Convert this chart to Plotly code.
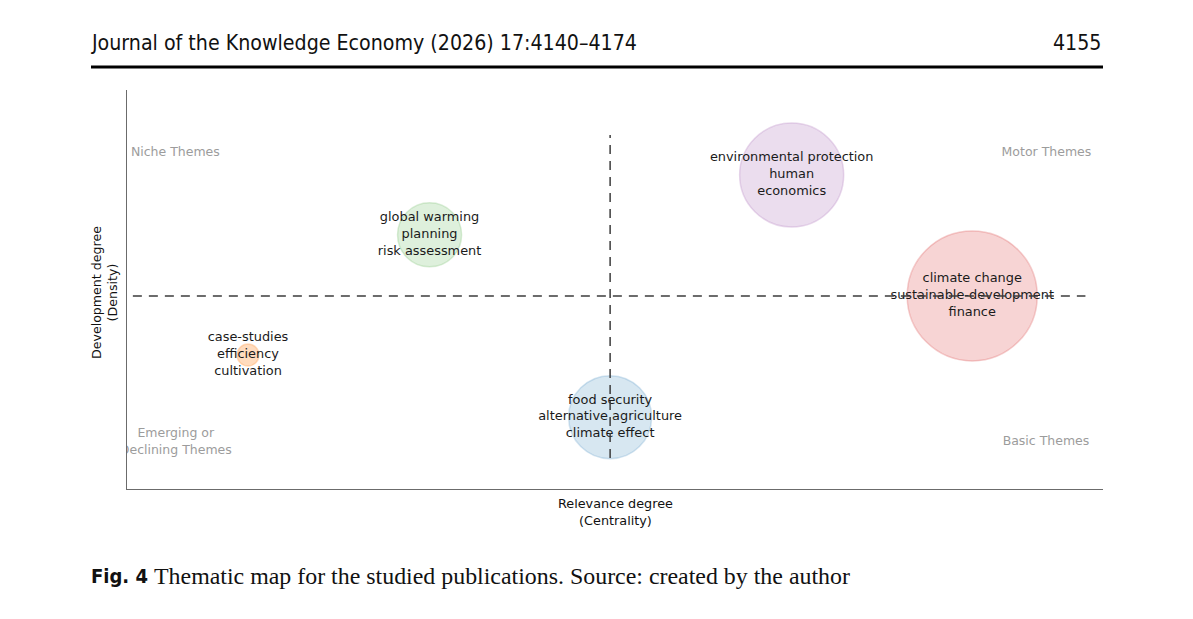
import numpy as np
import plotly.graph_objects as go

# ---- data ----
cluster_labels = [
    "global warming<br>planning<br>risk assessment",
    "environmental protection<br>human<br>economics",
    "climate change<br>sustainable-development<br>finance",
    "food security<br>alternative agriculture<br>climate effect",
    "case-studies<br>efficiency<br>cultivation",
]
centrality = [3.10, 6.81, 8.66, 4.95, 1.24]
density = [6.37, 7.87, 4.84, 1.80, 3.36]
cluster_size = [64, 104, 130, 83, 22]
fill_colors = ["rgba(63,167,51,0.24)", "rgba(162,98,178,0.3)", "rgba(214,39,40,0.28)",
               "rgba(31,119,180,0.25)", "rgba(255,127,14,0.38)"]
line_colors = ["rgba(63,167,51,0.28)", "rgba(162,98,178,0.35)", "rgba(214,39,40,0.33)",
               "rgba(31,119,180,0.28)", "rgba(255,127,14,0.35)"]

quadrant_names = ["Niche Themes", "Motor Themes", "Emerging or<br>Declining Themes", "Basic Themes"]

header_left = "Journal of the Knowledge Economy (2026) 17:4140–4174"
header_right = "4155"
caption_bold = "Fig. 4"
caption_text = "Thematic map for the studied publications. Source: created by the author"

# ---- layout geometry (page pixels; the page body has an 8px margin) ----
OFF = 8
W, H = 1193 - OFF, 619 - OFF
X_RANGE = [0, 10]
Y_RANGE = [0, 10]
px_left, px_right, px_top, px_bottom = 127, 1103, 90, 489

def px_x(p):
    return (p - OFF) / W

def px_y(p):
    return 1 - (p - OFF) / H

SANS_HEAD = "DejaVu Sans Condensed, Liberation Sans Narrow, Roboto, sans-serif"

fig = go.Figure()

# median reference lines
mx = float(np.median(centrality))
my = float(np.median(density))
fig.add_shape(type="line", x0=mx, x1=mx, y0=min(density) - 1.02, y1=max(density) + 1.0,
              xref="x", yref="y", line=dict(color="#3c3c3c", width=1.5, dash="9px,7px"), layer="above")
fig.add_shape(type="line", x0=min(centrality) - 1.18, x1=max(centrality) + 1.16, y0=my, y1=my,
              xref="x", yref="y", line=dict(color="#3c3c3c", width=1.5, dash="9px,7px"), layer="above")

fig.add_trace(go.Scatter(
    x=centrality, y=density, mode="markers",
    marker=dict(size=cluster_size, sizemode="diameter", color=fill_colors,
                line=dict(color=line_colors, width=1.5)),
    hoverinfo="skip", showlegend=False, cliponaxis=False,
))

# quadrant labels (clipped to plot area)
fig.add_trace(go.Scatter(
    x=[0.04, 9.88], y=[8.43, 8.43], mode="text",
    text=[quadrant_names[0], quadrant_names[1]],
    textposition=["middle right", "middle left"],
    textfont=dict(family="DejaVu Sans", size=12.5, color="#9c9c9c"),
    hoverinfo="skip", showlegend=False, cliponaxis=True,
))
fig.add_trace(go.Scatter(
    x=[0.5, 9.86], y=[1.17, 1.18], mode="text",
    text=[quadrant_names[2], quadrant_names[3]],
    textposition=["middle center", "middle left"],
    textfont=dict(family="DejaVu Sans", size=12.5, color="#9c9c9c"),
    hoverinfo="skip", showlegend=False, cliponaxis=True,
))

# cluster labels
fig.add_trace(go.Scatter(
    x=centrality, y=density, mode="text", text=cluster_labels,
    textposition="middle center",
    textfont=dict(family="DejaVu Sans", size=12.9, color="#1a1a1a"),
    hoverinfo="skip", showlegend=False, cliponaxis=False,
))

fig.update_xaxes(range=X_RANGE, domain=[px_x(px_left), px_x(px_right)],
                 showgrid=False, zeroline=False, showticklabels=False, ticks="",
                 showline=True, linecolor="#6b6b6b", linewidth=1.2, mirror=False,
                 fixedrange=True)
fig.update_yaxes(range=Y_RANGE, domain=[px_y(px_bottom), px_y(px_top)],
                 showgrid=False, zeroline=False, showticklabels=False, ticks="",
                 showline=True, linecolor="#6b6b6b", linewidth=1.2, mirror=False,
                 fixedrange=True)

annotations = [
    dict(text="Relevance degree<br>(Centrality)", x=px_x(615), y=px_y(512),
         xanchor="center", yanchor="middle", showarrow=False,
         font=dict(family="DejaVu Sans", size=12.8, color="#111")),
    dict(text="Development degree<br>(Density)", x=px_x(105), y=px_y(293),
         xanchor="center", yanchor="middle", showarrow=False, textangle=-90,
         font=dict(family="DejaVu Sans", size=12.6, color="#111")),
    dict(text=header_left, x=px_x(89), y=px_y(42), xanchor="left", yanchor="middle",
         showarrow=False, font=dict(family=SANS_HEAD, size=21.2, color="#111")),
    dict(text=header_right, x=px_x(1104), y=px_y(42), xanchor="right", yanchor="middle",
         showarrow=False, font=dict(family=SANS_HEAD, size=21.2, color="#111")),
    dict(text="<b>" + caption_bold + "</b>", x=px_x(89), y=px_y(576), xanchor="left", yanchor="middle",
         showarrow=False, font=dict(family=SANS_HEAD, size=20, color="#111")),
    dict(text=caption_text, x=px_x(152), y=px_y(576), xanchor="left", yanchor="middle",
         showarrow=False, font=dict(family="Liberation Serif", size=23.9, color="#111")),
]
for a in annotations:
    a["xref"] = "paper"
    a["yref"] = "paper"

fig.add_shape(type="line", xref="paper", yref="paper", x0=px_x(91), x1=px_x(1103),
              y0=px_y(67), y1=px_y(67), line=dict(color="#000", width=3))

fig.update_layout(width=W, height=H, margin=dict(l=0, r=0, t=0, b=0),
                  paper_bgcolor="white", plot_bgcolor="white",
                  annotations=annotations, showlegend=False)

fig.write_html("out.html", config={"displayModeBar": False})
